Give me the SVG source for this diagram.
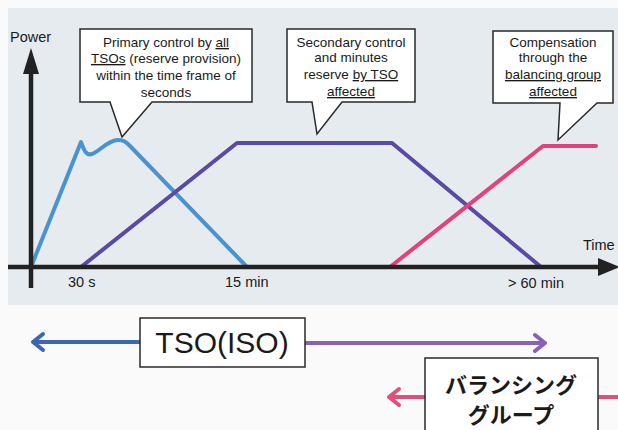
<svg xmlns="http://www.w3.org/2000/svg" width="618" height="430" viewBox="0 0 618 430">
  <style>
    text { font-family: "Liberation Sans", Arial, sans-serif; fill: #1a1a1a; }
    .call { font-size: 13.5px; text-anchor: middle; }
    .axl { font-size: 14.5px; }
    .box { fill: #ffffff; stroke: #2a2a2a; stroke-width: 1.5; }
    .u { text-decoration: underline; }
    .curve { fill: none; stroke-width: 4; stroke-linejoin: round; stroke-linecap: round; }
    .arr { fill: none; stroke-width: 4; stroke-linecap: round; stroke-linejoin: round; }
    .jp { font-family: "Noto Sans CJK JP", "Noto Sans", sans-serif; font-weight: bold; font-size: 22px; text-anchor: middle; }
  </style>
  <rect x="0" y="0" width="618" height="430" fill="#fafafa"/>
  <rect x="8" y="8" width="610" height="297" fill="#e6ebef"/>

  <g id="curves">
    <path class="curve" stroke="#4b93cf" d="M31,267 L81,142 C84,150 86,156 92,154 C100,151 108,140 118,140 C124,140 126,142 130,146 L247,267"/>
    <path class="curve" stroke="#5a4aa3" d="M81,267 L237,143 L392,143 L541,267"/>
    <path class="curve" stroke="#e2427c" d="M390,267 L543,146 L596,146"/>
  </g>

  <g id="axes">
    <line x1="31" y1="288" x2="31" y2="70" stroke="#222" stroke-width="4.5"/>
    <polygon points="31,48 23,74 39,74" fill="#222"/>
    <line x1="8" y1="267" x2="600" y2="267" stroke="#222" stroke-width="4.5"/>
    <polygon points="620,267 598,258 598,276" fill="#222"/>
    <text class="axl" x="10" y="42">Power</text>
    <text class="axl" x="583" y="250">Time</text>
    <text class="axl" x="68" y="287">30 s</text>
    <text class="axl" x="225" y="287">15 min</text>
    <text class="axl" x="508" y="288">&gt; 60 min</text>
  </g>

  <g id="callout-primary">
    <path class="box" d="M80,29 H252 V102 H152 L122,137 L110,102 H80 Z"/>
    <text class="call" x="166" y="47">Primary control by <tspan class="u">all</tspan></text>
    <text class="call" x="166" y="63"><tspan class="u">TSOs</tspan> (reserve provision)</text>
    <text class="call" x="166" y="80">within the time frame of</text>
    <text class="call" x="166" y="97">seconds</text>
  </g>

  <g id="callout-secondary">
    <path class="box" d="M287,29 H415 V102 H342 L317,134 L312,102 H287 Z"/>
    <text class="call" x="351" y="47">Secondary control</text>
    <text class="call" x="351" y="62">and minutes</text>
    <text class="call" x="351" y="79">reserve <tspan class="u">by TSO</tspan></text>
    <text class="call" x="351" y="96"><tspan class="u">affected</tspan></text>
  </g>

  <g id="callout-compensation">
    <path class="box" d="M493,31 H613 V103 H597 L558,140 L560,103 H493 Z"/>
    <text class="call" x="553" y="47">Compensation</text>
    <text class="call" x="553" y="62">through the</text>
    <text class="call" x="553" y="79"><tspan class="u">balancing group</tspan></text>
    <text class="call" x="553" y="96"><tspan class="u">affected</tspan></text>
  </g>

  <g id="connectors">
    <path class="arr" stroke="#3d66b2" d="M140,342 H33 M43,334 L33,342 L43,350"/>
    <path class="arr" stroke="#8a62b3" d="M305,343 H545 M535,335 L545,343 L535,351"/>
    <path class="arr" stroke="#e0507a" d="M425,397 H389 M399,389 L389,397 L399,405"/>
    <path class="arr" stroke="#e0507a" d="M598,397 H620"/>
  </g>

  <g id="node-tso">
    <rect class="box" x="140" y="318" width="165" height="49"/>
    <text x="222" y="353" font-size="30" text-anchor="middle">TSO(ISO)</text>
  </g>

  <g id="node-balancing">
    <rect class="box" x="425" y="358" width="173" height="80"/>
    <text class="jp" x="511" y="393">バランシング</text>
    <text class="jp" x="511" y="423">グループ</text>
  </g>
</svg>
